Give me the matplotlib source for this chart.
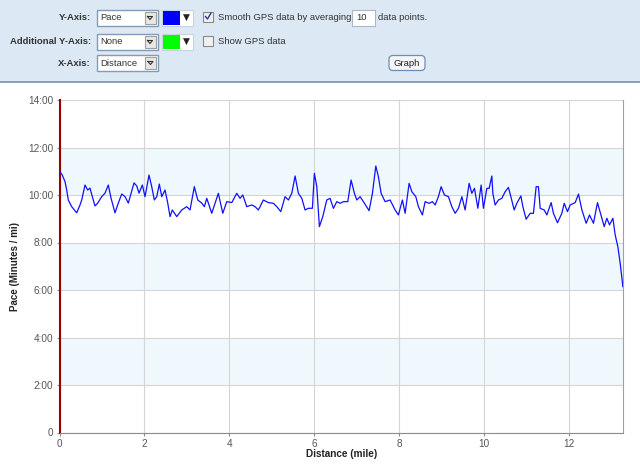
import numpy as np
import matplotlib
matplotlib.use("Agg")
import matplotlib.pyplot as plt
from matplotlib.patches import Rectangle, FancyBboxPatch

plt.rcParams['font.family'] = ['Liberation Sans', 'DejaVu Sans']

# pace along the run (mile, minutes per mile)
distance = [0.012, 0.066, 0.130, 0.170, 0.207, 0.287, 0.405, 0.483, 0.523, 0.601,
            0.664, 0.718, 0.773, 0.836, 0.900, 0.994, 1.072, 1.150, 1.213, 1.307,
            1.385, 1.465, 1.543, 1.621, 1.755, 1.819, 1.873, 1.951, 2.014, 2.108,
            2.172, 2.233, 2.290, 2.351, 2.408, 2.485, 2.549, 2.603, 2.657, 2.761,
            2.879, 2.996, 3.074, 3.175, 3.256, 3.350, 3.411, 3.468, 3.585, 3.663,
            3.741, 3.845, 3.939, 4.057, 4.174, 4.252, 4.316, 4.410, 4.528, 4.605,
            4.683, 4.801, 4.919, 5.037, 5.117, 5.211, 5.312, 5.390, 5.470, 5.548,
            5.626, 5.706, 5.783, 5.861, 5.955, 6.002, 6.059, 6.120, 6.200, 6.294,
            6.372, 6.450, 6.530, 6.608, 6.686, 6.789, 6.867, 6.945, 7.001, 7.079,
            7.157, 7.291, 7.369, 7.449, 7.510, 7.574, 7.668, 7.786, 7.903, 7.981,
            8.075, 8.139, 8.233, 8.297, 8.391, 8.452, 8.546, 8.610, 8.704, 8.782,
            8.846, 8.923, 8.987, 9.065, 9.159, 9.239, 9.317, 9.395, 9.475, 9.552,
            9.647, 9.710, 9.772, 9.852, 9.929, 9.983, 10.064, 10.118, 10.181, 10.205,
            10.259, 10.337, 10.417, 10.495, 10.572, 10.629, 10.707, 10.770, 10.865, 10.912,
            10.989, 11.084, 11.161, 11.225, 11.279, 11.319, 11.414, 11.477, 11.578, 11.632,
            11.727, 11.830, 11.885, 11.962, 12.026, 12.144, 12.222, 12.302, 12.403, 12.481,
            12.575, 12.669, 12.773, 12.827, 12.890, 12.952, 13.032, 13.086, 13.149, 13.204,
            13.267]
pace = [10.98, 10.84, 10.56, 10.21, 9.79, 9.51, 9.25, 9.58, 9.79, 10.42,
        10.21, 10.29, 9.93, 9.54, 9.66, 9.93, 10.08, 10.42, 9.87, 9.25,
        9.66, 10.04, 9.93, 9.66, 10.51, 10.38, 10.08, 10.42, 9.93, 10.84,
        10.35, 9.79, 9.93, 10.46, 9.93, 10.21, 9.66, 9.09, 9.37, 9.09,
        9.37, 9.51, 9.37, 10.35, 9.79, 9.66, 9.51, 9.86, 9.23, 9.65,
        10.07, 9.23, 9.72, 9.68, 10.07, 9.86, 10.00, 9.51, 9.58, 9.51,
        9.37, 9.79, 9.68, 9.65, 9.51, 9.30, 9.93, 9.79, 10.07, 10.80,
        10.07, 9.86, 9.37, 9.44, 9.44, 10.91, 10.35, 8.67, 9.09, 9.79,
        9.86, 9.44, 9.72, 9.65, 9.72, 9.72, 10.63, 10.07, 9.79, 9.93,
        9.72, 9.34, 10.07, 11.22, 10.77, 10.07, 9.72, 9.79, 9.37, 9.16,
        9.79, 9.23, 10.49, 10.14, 9.93, 9.51, 9.16, 9.72, 9.65, 9.72,
        9.58, 9.93, 10.35, 10.00, 9.93, 9.51, 9.23, 9.44, 9.93, 9.37,
        10.49, 10.07, 10.28, 9.44, 10.42, 9.44, 10.28, 10.28, 10.80, 10.07,
        9.58, 9.79, 9.86, 10.14, 10.32, 9.93, 9.37, 9.65, 9.96, 9.51,
        8.98, 9.23, 9.23, 10.35, 10.35, 9.44, 9.37, 9.16, 9.68, 9.23,
        8.83, 9.23, 9.65, 9.30, 9.58, 9.68, 10.04, 9.37, 8.81, 9.16,
        8.81, 9.68, 9.02, 8.67, 9.02, 8.74, 9.02, 8.32, 7.82, 7.12,
        6.14]

y_ticks = [0, 2, 4, 6, 8, 10, 12, 14]
y_labels = ['0', '2:00', '4:00', '6:00', '8:00', '10:00', '12:00', '14:00']
x_ticks = [0, 2, 4, 6, 8, 10, 12]

fig = plt.figure(figsize=(6.4, 4.76), dpi=100)

# background layer in pixel coords for the control panel
bg = fig.add_axes([0, 0, 1, 1])
bg.set_xlim(0, 640)
bg.set_ylim(476, 0)
bg.axis('off')
bg.add_patch(Rectangle((0, 0), 640, 81, facecolor='#dce8f4', edgecolor='none'))
bg.plot([0, 640], [81.5, 81.5], color='#6f8db4', lw=1.2)

fs = 6.8
lab_kw = dict(fontsize=fs, fontweight='bold', color='#333333', ha='right', va='center')
txt_kw = dict(fontsize=fs, color='#333333', ha='left', va='center')


def dropdown(x0, x1, yc, text):
    bg.add_patch(Rectangle((x0, yc - 8), x1 - x0, 16, facecolor='white', edgecolor='#7f9db9', lw=1))
    bg.add_patch(Rectangle((x1 - 13, yc - 6), 11, 12, facecolor='#e6e6e6', edgecolor='#a0a0a0', lw=0.8))
    bg.plot([x1 - 10, x1 - 5, x1 - 7.5, x1 - 10], [yc - 1, yc - 1, yc + 2, yc - 1], color='#333333', lw=0.8)
    bg.text(x0 + 4, yc + 0.5, text, **txt_kw)


def colorpick(x0, yc, c):
    bg.add_patch(Rectangle((x0, yc - 8), 31, 16, facecolor='white', edgecolor='#c8d4e0', lw=0.8))
    bg.add_patch(Rectangle((x0 + 1, yc - 7), 17, 14, facecolor=c, edgecolor='none'))
    bg.text(x0 + 24.5, yc, '\u25bc', fontsize=6.5, color='#222222', ha='center', va='center',
            family='DejaVu Sans')


def checkbox(x0, yc, checked):
    bg.add_patch(Rectangle((x0, yc - 5), 10, 10, facecolor='#f0f0f0', edgecolor='#8a8a8a', lw=0.8))
    if checked:
        bg.plot([x0 + 2.5, x0 + 4.5, x0 + 8], [yc, yc + 2.5, yc - 3.5], color='#2a3a8a', lw=1)


bg.text(91, 18, 'Y-Axis:', **lab_kw)
dropdown(96.5, 157.5, 17.5, 'Pace')
colorpick(162, 17.5, '#0000ff')
checkbox(203, 16.5, True)
bg.text(218, 18, 'Smooth GPS data by averaging', **txt_kw)
bg.add_patch(Rectangle((352, 9.5), 23, 16, facecolor='white', edgecolor='#a9b8c8', lw=0.8))
bg.text(356, 18, '10', **txt_kw)
bg.text(378, 18, 'data points.', **txt_kw)

bg.text(91, 42, 'Additional Y-Axis:', **lab_kw)
dropdown(96.5, 157.5, 41.5, 'None')
colorpick(162, 41.5, '#00ff00')
checkbox(203, 41, False)
bg.text(218, 42, 'Show GPS data', **txt_kw)

bg.text(91, 63, 'X-Axis:', **lab_kw)
dropdown(96.5, 158, 62.5, 'Distance')
bg.add_patch(FancyBboxPatch((389, 55.5), 36, 15, boxstyle='round,pad=0,rounding_size=4',
                            facecolor='#f4f6f8', edgecolor='#6f8db4', lw=0.9))
bg.text(407, 63.5, 'Graph', fontsize=fs, color='#222222', ha='center', va='center')

# the chart
ax = fig.add_axes([59.5 / 640, 1 - 432.5 / 476, (623 - 59.5) / 640, (432.5 - 100) / 476])
ax.set_xlim(0, 13.27)
ax.set_ylim(0, 14)
for lo in [2, 6, 10]:
    ax.axhspan(lo, lo + 2, color='#eff8fd', zorder=0, lw=0)
ax.set_yticks(y_ticks)
ax.set_yticklabels(y_labels)
ax.set_xticks(x_ticks)
ax.grid(True, color='#d4d4d4', lw=0.8, zorder=1)
ax.set_axisbelow(True)
ax.plot(distance, pace, color='#1010ff', lw=0.9, zorder=3)

ax.spines['top'].set_visible(False)
ax.spines['left'].set_color('#990000')
ax.spines['left'].set_linewidth(1.5)
ax.spines['bottom'].set_color('#8c8c8c')
ax.spines['right'].set_color('#a0a0a0')
ax.tick_params(axis='both', colors='#8c8c8c', length=2.5, width=0.8, labelsize=7.2,
               labelcolor='#555555', pad=2)

ax.set_xlabel('Distance (mile)', fontsize=7.2, fontweight='bold', color='#222222', labelpad=0)
ax.set_ylabel('Pace (Minutes / mi)', fontsize=7.0, fontweight='bold', color='#222222', labelpad=6)

fig.savefig('out.png', dpi=100)
